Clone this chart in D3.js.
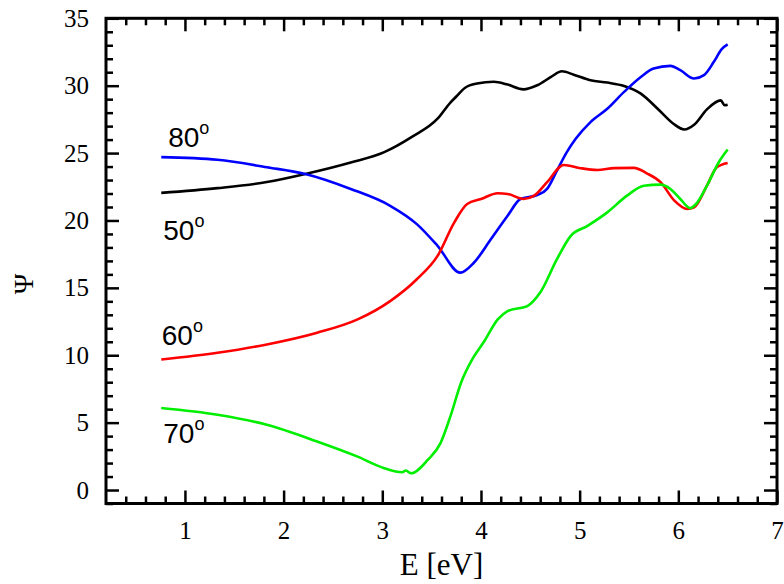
<!DOCTYPE html>
<html>
<head>
<meta charset="utf-8">
<script src="https://cdn.jsdelivr.net/npm/d3@7"></script>
<style>
  body { margin: 0; background: #fff; }
  svg { display: block; }
  .tick text { font-family: "Liberation Serif", "Times New Roman", serif; font-size: 25px; fill: #000; }
  .tick line { stroke: #000; stroke-width: 2.5; }
  .domain { display: none; }
  .label { font-family: "Liberation Serif", "Times New Roman", serif; fill: #000; }
  .angle { font-family: "Liberation Sans", Arial, sans-serif; font-size: 28px; fill: #000; }
</style>
</head>
<body>
<svg></svg>
<script>
var width = 784, height = 584;
var padding = { top: 18, right: 7, bottom: 80, left: 106 };

// Psi (deg) vs photon energy (eV), one array per angle of incidence
var psi50 = [
  [0.76, 22.05], [1.33, 22.4], [1.83, 22.85], [2.22, 23.45], [2.68, 24.3],
  [3.02, 25.07], [3.3, 26.2], [3.56, 27.55], [3.69, 28.75], [3.75, 29.2],
  [3.84, 29.85], [3.96, 30.16], [4.13, 30.29], [4.27, 30.08], [4.43, 29.73],
  [4.57, 30.03], [4.71, 30.65], [4.82, 31.07], [4.94, 30.82], [5.11, 30.4],
  [5.28, 30.23], [5.45, 29.98], [5.62, 29.41], [5.79, 28.29], [5.95, 27.18],
  [6.06, 26.75], [6.16, 27.1], [6.29, 28.24], [6.43, 28.91], [6.47, 28.55],
  [6.5, 28.59]
];
var psi80 = [
  [0.76, 24.7], [1.33, 24.5], [1.83, 23.95], [2.22, 23.45], [2.68, 22.34],
  [3.08, 21.09], [3.35, 19.73], [3.56, 18.12], [3.79, 16.13], [3.93, 16.88],
  [4.1, 18.6], [4.27, 20.35], [4.4, 21.59], [4.57, 21.89], [4.67, 22.34],
  [4.77, 23.7], [4.87, 25.07], [4.96, 26.06], [5.11, 27.3], [5.28, 28.29],
  [5.45, 29.54], [5.62, 30.65], [5.75, 31.27], [5.92, 31.47], [6.02, 31.15],
  [6.16, 30.53], [6.26, 30.78], [6.36, 31.77], [6.44, 32.71], [6.5, 33.06]
];
var psi60 = [
  [0.76, 9.68], [1.33, 10.18], [1.83, 10.8], [2.34, 11.67], [2.75, 12.66],
  [3.08, 14.02], [3.35, 15.64], [3.56, 17.37], [3.73, 19.86], [3.86, 21.22],
  [4.0, 21.59], [4.17, 22.02], [4.27, 21.97], [4.43, 21.59], [4.54, 21.84],
  [4.67, 22.84], [4.84, 24.12], [5.01, 23.88], [5.18, 23.75], [5.35, 23.88],
  [5.55, 23.9], [5.68, 23.5], [5.82, 22.84], [5.96, 21.47], [6.09, 20.85],
  [6.16, 20.97], [6.29, 22.58], [6.39, 23.95], [6.5, 24.27]
];
var psi70 = [
  [0.76, 6.08], [1.33, 5.58], [1.83, 4.84], [2.34, 3.6], [2.75, 2.48],
  [3.02, 1.62], [3.2, 1.32], [3.24, 1.45], [3.29, 1.24], [3.46, 2.23],
  [3.59, 3.48], [3.69, 5.46], [3.8, 8.0], [3.92, 9.8], [4.03, 11.0],
  [4.17, 12.66], [4.27, 13.28], [4.47, 13.65], [4.6, 14.65], [4.77, 17.13],
  [4.91, 18.86], [5.08, 19.6], [5.28, 20.6], [5.48, 21.84], [5.65, 22.58],
  [5.82, 22.66], [5.92, 22.34], [6.02, 21.59], [6.12, 20.92], [6.18, 21.22],
  [6.29, 22.58], [6.41, 24.32], [6.5, 25.26]
];

var xTicks = [1, 2, 3, 4, 5, 6, 7];
var yTicks = [0, 5, 10, 15, 20, 25, 30, 35];

// angle labels, anchored at (E, Psi) of the text's left baseline
var angleLabels = [
  { text: "80", e: 0.83, psi: 25.47 },
  { text: "50", e: 0.78, psi: 18.55 },
  { text: "60", e: 0.765, psi: 10.76 },
  { text: "70", e: 0.78, psi: 3.46 }
];

var series = [
  { data: psi50, color: "#000000" },
  { data: psi80, color: "#0000ff" },
  { data: psi60, color: "#ff0000" },
  { data: psi70, color: "#00ee00" }
];

var svg = d3.select("svg")
  .attr("width", width)
  .attr("height", height);

var x = d3.scaleLinear()
  .domain([0.2, 7])
  .range([padding.left, width - padding.right]);

var y = d3.scaleLinear()
  .domain([-1, 35])
  .range([height - padding.bottom - 0.5, padding.top + 0.3]);

var minorX = d3.range(0.4, 7, 0.2).filter(d => Math.abs(d - Math.round(d)) > 0.01);
var minorY = d3.range(-1, 35, 1).filter(d => d % 5 !== 0);

var yBottom = y.range()[0], yTop = y.range()[1];
var xLeft = x.range()[0], xRight = x.range()[1];
var fmt = d3.format("d");

// major + minor ticks on all four sides, pointing inward
svg.append("g")
  .attr("transform", "translate(0," + yBottom + ")")
  .call(d3.axisBottom(x).tickValues(xTicks).tickSize(-13).tickSizeOuter(0).tickPadding(17.5).tickFormat(fmt));
svg.append("g")
  .attr("transform", "translate(0," + yBottom + ")")
  .call(d3.axisBottom(x).tickValues(minorX).tickSize(-7).tickSizeOuter(0).tickFormat(""));
svg.append("g")
  .attr("transform", "translate(0," + yTop + ")")
  .call(d3.axisTop(x).tickValues(xTicks).tickSize(-13).tickSizeOuter(0).tickFormat(""));
svg.append("g")
  .attr("transform", "translate(0," + yTop + ")")
  .call(d3.axisTop(x).tickValues(minorX).tickSize(-7).tickSizeOuter(0).tickFormat(""));

svg.append("g")
  .attr("transform", "translate(" + xLeft + ",0)")
  .call(d3.axisLeft(y).tickValues(yTicks).tickSize(-13).tickSizeOuter(0).tickPadding(17).tickFormat(fmt));
svg.append("g")
  .attr("transform", "translate(" + xLeft + ",0)")
  .call(d3.axisLeft(y).tickValues(minorY).tickSize(-7).tickSizeOuter(0).tickFormat(""));
svg.append("g")
  .attr("transform", "translate(" + xRight + ",0)")
  .call(d3.axisRight(y).tickValues(yTicks).tickSize(-13).tickSizeOuter(0).tickFormat(""));
svg.append("g")
  .attr("transform", "translate(" + xRight + ",0)")
  .call(d3.axisRight(y).tickValues(minorY).tickSize(-7).tickSizeOuter(0).tickFormat(""));

// frame
svg.append("rect")
  .attr("x", xLeft)
  .attr("y", yTop)
  .attr("width", xRight - xLeft)
  .attr("height", yBottom - yTop)
  .attr("fill", "none")
  .attr("stroke", "#000")
  .attr("stroke-width", 3);

// curves
var line = d3.line()
  .x(d => x(d[0]))
  .y(d => y(d[1]))
  .curve(d3.curveMonotoneX);

svg.selectAll("path.curve")
  .data(series)
  .enter()
  .append("path")
    .classed("curve", true)
    .attr("d", d => line(d.data))
    .attr("fill", "none")
    .attr("stroke", d => d.color)
    .attr("stroke-width", 2.6)
    .attr("stroke-linejoin", "round");

// angle labels with degree sign as raised "o"
var labels = svg.selectAll("text.angle")
  .data(angleLabels)
  .enter()
  .append("text")
    .classed("angle", true)
    .attr("x", d => x(d.e))
    .attr("y", d => y(d.psi))
    .text(d => d.text);
labels.append("tspan")
  .attr("font-size", "18px")
  .attr("dy", -13)
  .text("o");

// axis titles
svg.append("text")
  .classed("label", true)
  .attr("x", (xLeft + xRight) / 2)
  .attr("y", 575)
  .attr("text-anchor", "middle")
  .attr("font-size", "31px")
  .text("E [eV]");

svg.append("text")
  .classed("label", true)
  .attr("transform", "translate(33," + y(15.3) + ") rotate(-90)")
  .attr("text-anchor", "middle")
  .attr("font-size", "28px")
  .text("Ψ");
</script>
</body>
</html>
